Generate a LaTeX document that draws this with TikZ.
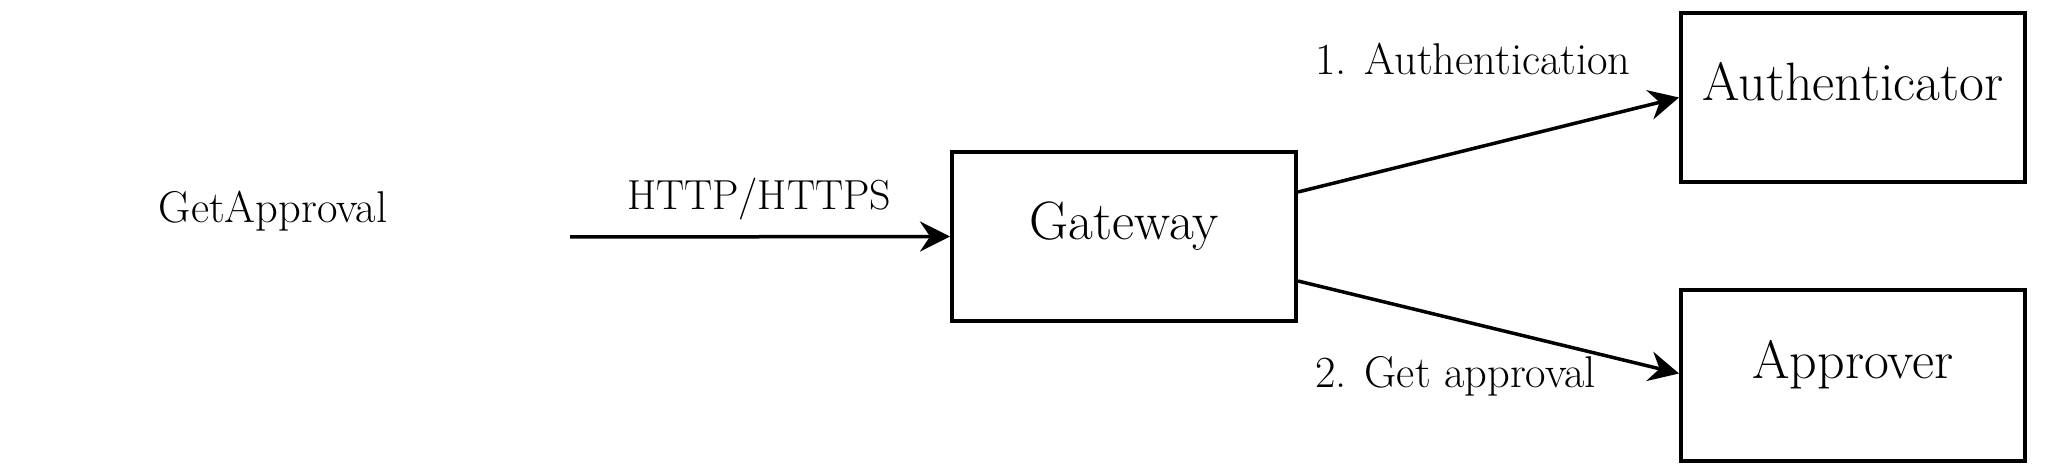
\documentclass[tikz,border=0pt]{standalone}
\usepackage{fontspec}
\usetikzlibrary{arrows.meta}
\begin{document}
\begin{tikzpicture}[x=1pt,y=-1pt,
  box/.style={draw=black, line width=4pt, minimum width=344pt, minimum height=169pt,
    inner sep=0pt, font=\fontsize{54}{62}\selectfont, text height=0.683em, text depth=0pt},
  lbl/.style={inner sep=0pt, font=\fontsize{44.5}{52}\selectfont},
  conn/.style={line width=3.5pt, -{Stealth[length=30pt,width=30pt,inset=10pt]}}
]
\useasboundingbox (0,0) rectangle (2048,470);
\fill[white] (0,0) rectangle (2048,470);

\node[box] (gw) at (1124,236.5) {Gateway};
\node[box] (auth) at (1853,97.5) {Authenticator};
\node[box, minimum height=171pt] (appr) at (1853,375.5) {Approver};

\node[lbl, anchor=base] (client) at (273,223) {GetApproval};
\coordinate (src) at (570,237);

\draw[conn] (src) -- (gw.west);
\node[lbl, anchor=base, font=\fontsize{42}{50}\selectfont] (http) at (759,210) {HTTP/HTTPS};

\draw[conn] ([yshift=44.5pt]gw.east) -- (auth.west);
\draw[conn] ([yshift=-44.5pt]gw.east) -- ([yshift=2pt]appr.west);

\node[lbl, anchor=base west] (l1) at (1315,75) {1. Authentication};
\node[lbl, anchor=base west] (l2) at (1315,387) {2. Get approval};
\end{tikzpicture}
\end{document}
